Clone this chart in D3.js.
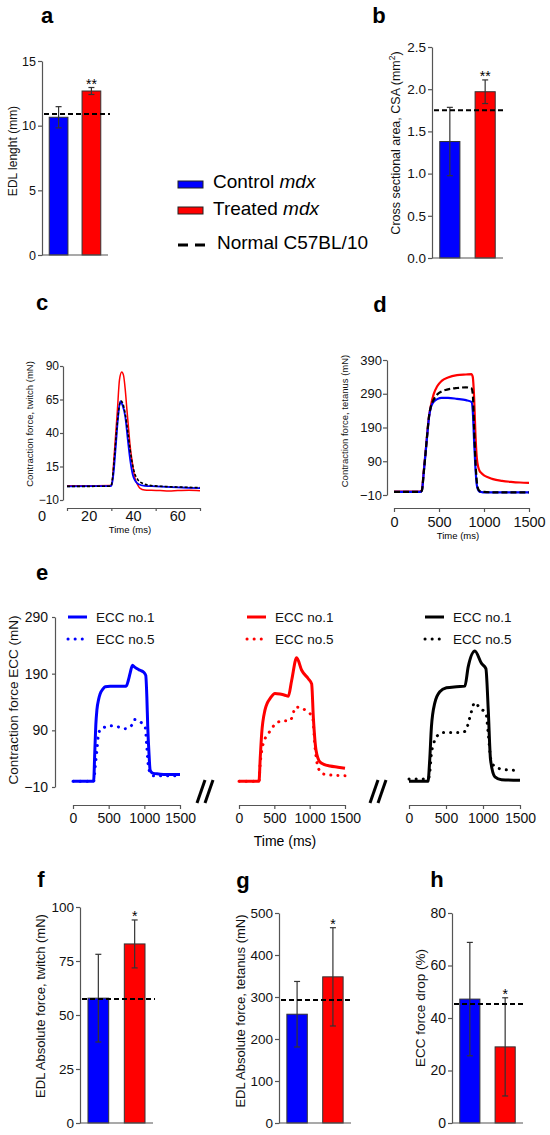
<!DOCTYPE html>
<html>
<head>
<meta charset="utf-8">
<title>EDL muscle, control vs treated mdx</title>
<script src="https://d3js.org/d3.v7.min.js"></script>
<style>
  body { margin: 0; background: #fff; }
  svg { font-family: "Liberation Sans", Arial, sans-serif; }
</style>
</head>
<body>
<script>
// groups
var groups = ["Control", "Treated"];
var groupColors = ["#0000ff", "#ff0000"];

// a - EDL length (mm)
var lengthMean = [10.65, 12.68];
var lengthErr = [0.82, 0.27];
var lengthNormal = 10.9;
var lengthTicks = [0, 5, 10, 15];
var lengthStars = ["", "**"];

// b - cross sectional area (mm2)
var csaMean = [1.38, 1.97];
var csaErr = [0.405, 0.14];
var csaNormal = 1.75;
var csaTicks = [0, 0.5, 1, 1.5, 2, 2.5];
var csaStars = ["", "**"];

// f - twitch force (mN)
var twitchMean = [57.8, 82.9];
var twitchErr = [20.3, 11.1];
var twitchNormal = 57.4;
var twitchTicks = [0, 25, 50, 75, 100];

// g - tetanus force (mN)
var tetanusMean = [259, 348];
var tetanusErr = [78, 117];
var tetanusNormal = 293;
var tetanusTicks = [0, 100, 200, 300, 400, 500];

// h - ECC force drop (%)
var dropMean = [47.2, 29];
var dropErr = [21.6, 18.7];
var dropNormal = 45.3;
var dropTicks = [0, 20, 40, 60, 80];

var oneStar = ["", "*"];

// c - twitch traces [time ms, force mN]
var twitchTickMarks = [10, 30, 50, 70];
var twitchTickLabels = [20, 40, 60];
var twitchYTicks = [-10, 15, 40, 65, 90];
var twitchRed = [[10, 0.6], [20, 0.7], [29.8, 0.8], [30.3, 2], [31, 17], [32, 40], [32.7, 56],
  [33.7, 80], [34.7, 85.5], [35.5, 83], [36.3, 72], [37, 58], [37.8, 43], [38.5, 30], [39.3, 20],
  [40, 12], [40.8, 5.4], [42, 1], [43, -1.3], [45, -2.5], [48, -2.8], [52, -3], [56, -3.3],
  [60, -3], [65, -2.8], [70, -3.1]];
var twitchBlue = [[10, 0.2], [20, 0.3], [29.8, 0.4], [30.4, 3], [31, 10], [32, 30], [33, 51],
  [34, 63.5], [35, 61], [36.3, 52], [37.5, 34], [38.5, 20], [40, 7], [42.3, 1.8], [45, 0.6],
  [50, 0.2], [55, -0.2], [60, -0.6], [65, -0.9], [70, -1.1]];
var twitchBlack = [[10, 0.2], [20, 0.2], [29.8, 0.3], [30.5, 6], [31.5, 24], [32.5, 44],
  [33.5, 59], [34.3, 64], [35.2, 62], [36.3, 54], [37.5, 40], [38.5, 27], [40, 13], [42, 5],
  [44, 2.5], [47, 1], [55, 0], [62, -0.4], [70, -0.8]];

// d - tetanus traces [time ms, force mN]
var tetTicks = [0, 500, 1000, 1500];
var tetYTicks = [-10, 90, 190, 290, 390];
var tetRed = [[0, 0], [290, 0], [310, 5], [330, 60], [350, 115], [370, 175], [390, 225],
  [410, 255], [440, 288], [480, 312], [530, 328], [600, 338], [700, 345], [800, 347],
  [860, 348], [875, 340], [890, 280], [905, 170], [920, 100], [935, 74], [950, 62], [970, 55],
  [1000, 48], [1050, 42], [1100, 37], [1200, 32], [1300, 29], [1400, 27], [1500, 26]];
var tetBlue = [[0, -1], [290, -1], [310, 3], [330, 55], [350, 112], [370, 170], [390, 222],
  [410, 250], [440, 266], [480, 274], [530, 278], [600, 278], [700, 275], [800, 271],
  [860, 266], [875, 240], [890, 150], [905, 70], [920, 20], [935, 5], [950, 0], [970, -1],
  [1000, -2], [1100, -2], [1300, -2], [1500, -2]];
var tetBlack = [[0, -1], [290, -1], [310, 3], [330, 55], [350, 112], [370, 172], [390, 225],
  [410, 252], [440, 272], [480, 288], [530, 297], [600, 303], [700, 307], [800, 309],
  [860, 306], [875, 290], [890, 190], [905, 90], [920, 30], [935, 8], [950, 2], [970, 0],
  [1000, -1], [1100, -2], [1300, -2], [1500, -2]];

// e - eccentric contractions [time ms, force mN]
var eccTicks = [0, 500, 1000, 1500];
var eccYTicks = [-10, 90, 190, 290];
var eccLabels = ["ECC no.1", "ECC no.5"];
var blueEcc1 = [[0, 0], [289, 0], [305, 50], [320, 100], [335, 126], [360, 145], [382, 155],
  [420, 163], [452, 167], [520, 168], [615, 168], [700, 168], [745, 168], [775, 178], [801, 191],
  [834, 205], [860, 202], [894, 199], [940, 196], [988, 193], [1020, 187], [1035, 150],
  [1048, 96], [1065, 50], [1081, 20], [1100, 16], [1127, 14], [1200, 13], [1300, 12], [1500, 12]];
var blueEcc5 = [[0, 0], [290, 0], [312, 26], [335, 55], [359, 84], [400, 94], [429, 95],
  [522, 98], [638, 96], [731, 93], [824, 99], [862, 109], [941, 105], [1011, 96], [1034, 61],
  [1057, 26], [1090, 13], [1127, 10], [1300, 10], [1500, 10]];
var redEcc1 = [[0, 0], [283, 0], [300, 40], [321, 84], [368, 126], [400, 138], [439, 146],
  [509, 155], [580, 154], [650, 152], [698, 150], [745, 178], [816, 218], [887, 196],
  [981, 181], [1028, 172], [1052, 113], [1090, 55], [1146, 34], [1200, 30], [1288, 27],
  [1400, 25], [1500, 23]];
var redEcc5 = [[0, 0], [283, 0], [297, 26], [344, 67], [415, 84], [533, 103], [627, 107],
  [722, 107], [807, 131], [887, 129], [967, 123], [1042, 113], [1075, 61], [1123, 23],
  [1193, 13], [1300, 11], [1500, 10]];
var blackEcc1 = [[0, 0], [257, 0], [280, 38], [303, 96], [348, 138], [416, 158], [506, 165],
  [642, 167], [755, 168], [800, 202], [890, 230], [980, 208], [1039, 199], [1071, 126],
  [1102, 38], [1161, 8], [1250, 3], [1500, 2]];
var blackEcc5 = [[0, 4], [257, 4], [280, 15], [303, 49], [334, 67], [380, 80], [461, 86],
  [574, 86], [687, 86], [768, 89], [800, 102], [831, 117], [890, 139], [958, 129], [1039, 120],
  [1071, 84], [1107, 38], [1161, 26], [1274, 21], [1500, 19]];

var svg = d3.select("body").append("svg")
  .attr("width", 550)
  .attr("height", 1135);

var intFmt = d3.format("d");

function styleAxis(sel, size) {
  sel.attr("font-family", null).attr("font-size", size);
  sel.select(".domain").attr("stroke", "#555").attr("stroke-width", 1.2);
  sel.selectAll(".tick line").attr("stroke", "#555").attr("stroke-width", 1.2);
  sel.selectAll(".tick text").attr("fill", "#111");
}

function letter(txt, x, y) {
  svg.append("text").attr("x", x).attr("y", y)
    .attr("text-anchor", "middle").attr("font-size", 22).attr("font-weight", "bold")
    .text(txt);
}

function yTitle(txt, x, y, size) {
  return svg.append("text")
    .attr("transform", "translate(" + x + "," + y + ") rotate(-90)")
    .attr("text-anchor", "middle").attr("font-size", size).attr("fill", "#111")
    .text(txt);
}

// bar chart with error bars, dashed normal level and stars
function barPanel(p) {
  var x = d3.scaleBand().domain(groups).range([p.left, p.right])
    .paddingInner(0.43).paddingOuter(0.22);
  var y = d3.scaleLinear().domain([p.ticks[0], p.ticks[p.ticks.length - 1]])
    .range([p.bottom, p.top]);
  var g = svg.append("g");

  g.selectAll("rect.bar").data(p.mean).join("rect")
    .attr("class", "bar")
    .attr("x", function (d, i) { return x(groups[i]); })
    .attr("y", function (d) { return y(d); })
    .attr("width", x.bandwidth())
    .attr("height", function (d) { return y(0) - y(d); })
    .attr("fill", function (d, i) { return groupColors[i]; })
    .attr("stroke", "#333").attr("stroke-width", 1);

  // error bars
  var cx = function (i) { return x(groups[i]) + x.bandwidth() / 2; };
  p.mean.forEach(function (m, i) {
    var lo = y(m - p.err[i]), hi = y(m + p.err[i]);
    g.append("line").attr("x1", cx(i)).attr("x2", cx(i)).attr("y1", lo).attr("y2", hi)
      .attr("stroke", "#333").attr("stroke-width", 1.2);
    [lo, hi].forEach(function (yy) {
      g.append("line").attr("x1", cx(i) - 3).attr("x2", cx(i) + 3).attr("y1", yy).attr("y2", yy)
        .attr("stroke", "#333").attr("stroke-width", 1.2);
    });
    if (p.stars[i]) {
      g.append("text").attr("x", cx(i)).attr("y", hi + 1)
        .attr("text-anchor", "middle").attr("font-size", 14).text(p.stars[i]);
    }
  });

  // axes
  var ay = g.append("g").attr("transform", "translate(" + p.left + ",0)")
    .call(d3.axisLeft(y).tickValues(p.ticks).tickFormat(p.fmt || intFmt)
      .tickSize(4).tickPadding(2).tickSizeOuter(0));
  styleAxis(ay, p.tickFont);
  g.append("line").attr("x1", p.left).attr("x2", p.right)
    .attr("y1", y(0)).attr("y2", y(0))
    .attr("stroke", "#555").attr("stroke-width", 1.2);

  // normal C57BL/10 level
  g.append("line").attr("x1", p.left + 2).attr("x2", p.right + 2)
    .attr("y1", y(p.normal)).attr("y2", y(p.normal))
    .attr("stroke", "#000").attr("stroke-width", 2).attr("stroke-dasharray", "5,3");

  return y;
}

// ---- a
letter("a", 47, 23);
barPanel({ left: 42, right: 108, top: 61, bottom: 255, ticks: lengthTicks,
  mean: lengthMean, err: lengthErr, normal: lengthNormal, stars: lengthStars, tickFont: 12.5 });
yTitle("EDL lenght  (mm)", 17, 151, 12);

// ---- b
letter("b", 379, 23);
barPanel({ left: 432, right: 503, top: 47, bottom: 258, ticks: csaTicks, fmt: d3.format(".1f"),
  mean: csaMean, err: csaErr, normal: csaNormal, stars: csaStars, tickFont: 13.5 });
var tb = yTitle("Cross sectional area, CSA (mm", 400, 143, 12.5);
tb.append("tspan").attr("dy", -5).attr("font-size", 8.5).text("2");
tb.append("tspan").attr("dy", 5).text(")");

// ---- legend
var leg = svg.append("g").attr("transform", "translate(178,0)");
leg.append("rect").attr("x", 0).attr("y", 181).attr("width", 25).attr("height", 7)
  .attr("fill", groupColors[0]).attr("stroke", "#222");
leg.append("rect").attr("x", 0).attr("y", 207).attr("width", 25).attr("height", 7)
  .attr("fill", groupColors[1]).attr("stroke", "#222");
[["Control ", 188], ["Treated ", 215]].forEach(function (t) {
  var tx = leg.append("text").attr("x", 35).attr("y", t[1]).attr("font-size", 19).text(t[0]);
  tx.append("tspan").attr("font-style", "italic").text("mdx");
});
leg.append("line").attr("x1", 0).attr("x2", 27).attr("y1", 245).attr("y2", 245)
  .attr("stroke", "#000").attr("stroke-width", 3).attr("stroke-dasharray", "10,7");
leg.append("text").attr("x", 39).attr("y", 249).attr("font-size", 19).text("Normal C57BL/10");

var line = function (xs, ys) {
  return d3.line().x(function (d) { return xs(d[0]); }).y(function (d) { return ys(d[1]); })
    .curve(d3.curveMonotoneX);
};

// ---- c twitch
letter("c", 42, 310);
var xC = d3.scaleLinear().domain([10, 70]).range([67, 200]);
var yC = d3.scaleLinear().domain([-10, 90]).range([500, 366]);
var lc = line(xC, yC);
svg.append("path").attr("d", lc(twitchRed)).attr("fill", "none")
  .attr("stroke", "#ff0000").attr("stroke-width", 1.5);
svg.append("path").attr("d", lc(twitchBlue)).attr("fill", "none")
  .attr("stroke", "#0000ff").attr("stroke-width", 1.8);
svg.append("path").attr("d", lc(twitchBlack)).attr("fill", "none")
  .attr("stroke", "#000").attr("stroke-width", 1.6).attr("stroke-dasharray", "3,2");
var cy = svg.append("g").attr("transform", "translate(63,0)")
  .call(d3.axisLeft(yC).tickValues(twitchYTicks).tickFormat(intFmt)
    .tickSize(3).tickPadding(1).tickSizeOuter(0));
styleAxis(cy, 12);
var cx = svg.append("g").attr("transform", "translate(0,508)")
  .call(d3.axisBottom(xC).tickValues(twitchTickMarks).tickFormat("").tickSize(3).tickSizeOuter(0));
styleAxis(cx, 15);
svg.selectAll("text.ctick").data(twitchTickLabels).join("text")
  .attr("class", "ctick")
  .attr("x", function (d) { return xC(d); }).attr("y", 521)
  .attr("text-anchor", "middle").attr("font-size", 14.5).attr("fill", "#111")
  .text(function (d) { return d; });
svg.append("text").attr("x", xC(10) - 25).attr("y", 521).attr("text-anchor", "middle")
  .attr("font-size", 14.5).attr("fill", "#111").text("0");
yTitle("Contraction force, twitch  (mN)", 33, 424, 9.5);
svg.append("text").attr("x", 130).attr("y", 533).attr("text-anchor", "middle")
  .attr("font-size", 9.5).text("Time (ms)");

// ---- d tetanus
letter("d", 380, 312);
var xD = d3.scaleLinear().domain([0, 1500]).range([394, 529]);
var yD = d3.scaleLinear().domain([-10, 390]).range([495, 360]);
var ld = line(xD, yD);
svg.append("path").attr("d", ld(tetRed)).attr("fill", "none")
  .attr("stroke", "#ff0000").attr("stroke-width", 2.2);
svg.append("path").attr("d", ld(tetBlue)).attr("fill", "none")
  .attr("stroke", "#0000ff").attr("stroke-width", 2.2);
svg.append("path").attr("d", ld(tetBlack)).attr("fill", "none")
  .attr("stroke", "#000").attr("stroke-width", 2.2).attr("stroke-dasharray", "6,3");
var dy = svg.append("g").attr("transform", "translate(387,0)")
  .call(d3.axisLeft(yD).tickValues(tetYTicks).tickFormat(intFmt)
    .tickSize(4).tickPadding(1).tickSizeOuter(0));
styleAxis(dy, 13);
var dx = svg.append("g").attr("transform", "translate(0,508)")
  .call(d3.axisBottom(xD).tickValues(tetTicks).tickFormat(intFmt)
    .tickSize(4).tickPadding(5).tickSizeOuter(0));
styleAxis(dx, 14.5);
yTitle("Contraction force, tetanus  (mN)", 348, 421, 9.5);
svg.append("text").attr("x", 458).attr("y", 539).attr("text-anchor", "middle")
  .attr("font-size", 9.5).text("Time (ms)");

// ---- e eccentric
letter("e", 42, 580);
var yE = d3.scaleLinear().domain([-10, 290]).range([787, 617]);
var eccPanels = [
  { left: 73, right: 180, color: "#0000ff", s1: blueEcc1, s5: blueEcc5, legX: 68 },
  { left: 239, right: 345, color: "#ff0000", s1: redEcc1, s5: redEcc5, legX: 247 },
  { left: 409, right: 520, color: "#000000", s1: blackEcc1, s5: blackEcc5, legX: 425 }
];
eccPanels.forEach(function (p, k) {
  var xE = d3.scaleLinear().domain([0, 1500]).range([p.left, p.right]);
  var le = line(xE, yE);
  svg.append("path").attr("d", le(p.s5)).attr("fill", "none")
    .attr("stroke", p.color).attr("stroke-width", 3).attr("stroke-linecap", "round")
    .attr("stroke-dasharray", "0.1,7");
  svg.append("path").attr("d", le(p.s1)).attr("fill", "none")
    .attr("stroke", p.color).attr("stroke-width", 3);
  var ex = svg.append("g").attr("transform", "translate(0,805)")
    .call(d3.axisBottom(xE).tickValues(eccTicks).tickFormat(intFmt)
      .tickSize(4).tickPadding(4).tickSizeOuter(0));
  styleAxis(ex, 14);

  // legend
  [617, 639].forEach(function (ly, j) {
    var l = svg.append("line").attr("x1", p.legX).attr("x2", p.legX + 19)
      .attr("y1", ly).attr("y2", ly).attr("stroke", p.color).attr("stroke-width", 3);
    if (j === 1) l.attr("stroke-linecap", "round").attr("stroke-dasharray", "0.1,7");
    svg.append("text").attr("x", p.legX + 28).attr("y", ly + 5)
      .attr("font-size", 13.5).attr("fill", "#111").text(eccLabels[j]);
  });

  // axis break marks
  if (k > 0) {
    var c = (eccPanels[k - 1].right + p.left) / 2 + (k === 1 ? -4.5 : 1);
    [c - 8, c].forEach(function (s) {
      svg.append("line").attr("x1", s).attr("y1", 803).attr("x2", s + 8).attr("y2", 780)
        .attr("stroke", "#000").attr("stroke-width", 3);
    });
  }
});
var ey = svg.append("g").attr("transform", "translate(55,0)")
  .call(d3.axisLeft(yE).tickValues(eccYTicks).tickFormat(intFmt)
    .tickSize(3).tickPadding(4).tickSizeOuter(0));
styleAxis(ey, 14);
yTitle("Contraction force ECC  (mN)", 18, 700, 13.5);
svg.append("text").attr("x", 285).attr("y", 846).attr("text-anchor", "middle")
  .attr("font-size", 14).text("Time (ms)");

// ---- f, g, h
letter("f", 41, 887);
barPanel({ left: 80, right: 153, top: 907, bottom: 1123, ticks: twitchTicks,
  mean: twitchMean, err: twitchErr, normal: twitchNormal, stars: oneStar, tickFont: 13.5 });
yTitle("EDL Absolute force, twitch (mN)", 45, 1006, 13);

letter("g", 243, 888);
barPanel({ left: 279, right: 351, top: 913, bottom: 1123, ticks: tetanusTicks,
  mean: tetanusMean, err: tetanusErr, normal: tetanusNormal, stars: oneStar, tickFont: 13.5 });
yTitle("EDL Absolute force, tetanus (mN)", 245, 1011, 13);

letter("h", 437, 887);
barPanel({ left: 452, right: 523, top: 913, bottom: 1123, ticks: dropTicks,
  mean: dropMean, err: dropErr, normal: dropNormal, stars: oneStar, tickFont: 14 });
yTitle("ECC force drop  (%)", 425, 1008, 13.5);
</script>
</body>
</html>
